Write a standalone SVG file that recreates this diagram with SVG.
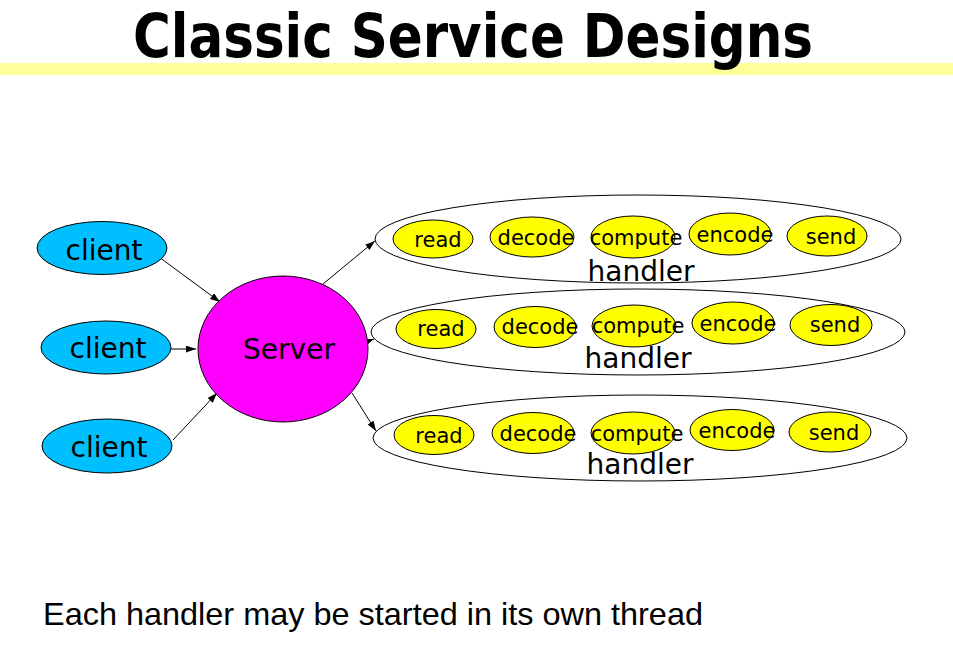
<svg xmlns="http://www.w3.org/2000/svg" width="953" height="657" viewBox="0 0 953 657">
<style>
.t{font-family:"DejaVu Sans",sans-serif;fill:#000;text-anchor:middle}
.client{fill:#00BFFF;stroke:#000;stroke-width:1}
.srv{fill:#FF00FF;stroke:#000;stroke-width:1}
.hnd{fill:none;stroke:#000;stroke-width:1}
.stage{fill:#FFFF00;stroke:#000;stroke-width:1}
.lbl{font-size:28px}
.st{font-size:21px}
.edge{stroke:#000;stroke-width:1;fill:none;marker-end:url(#ah)}
</style>
<defs>
<marker id="ah" markerUnits="userSpaceOnUse" markerWidth="11" markerHeight="8" refX="10" refY="3.5" orient="auto">
<path d="M0,0 L10,3.5 L0,7 z" fill="#000"/>
</marker>
</defs>
<rect width="953" height="657" fill="#fff"/>
<rect x="0" y="63" width="953" height="12" fill="#FFFF99"/>
<text x="473" y="57" font-family="'DejaVu Sans',sans-serif" font-weight="bold" font-size="61" text-anchor="middle" textLength="680" lengthAdjust="spacingAndGlyphs">Classic Service Designs</text>

<g id="connectors">
<line class="edge" x1="159" y1="257" x2="220" y2="302"/>
<line class="edge" x1="171" y1="349" x2="196" y2="349"/>
<line class="edge" x1="173" y1="440" x2="217" y2="393"/>
<line class="edge" x1="323" y1="284" x2="375" y2="241"/>
<line class="edge" x1="366" y1="342" x2="374" y2="339"/>
<line class="edge" x1="352" y1="393" x2="376" y2="431"/>
</g>

<g id="client1"><ellipse class="client" cx="102" cy="248" rx="65" ry="26.5"/><text class="t lbl" x="104" y="260" font-size="27">client</text></g>
<g id="client2"><ellipse class="client" cx="106" cy="347.5" rx="65" ry="26.5"/><text class="t lbl" x="108" y="358">client</text></g>
<g id="client3"><ellipse class="client" cx="107" cy="446" rx="65" ry="27"/><text class="t lbl" x="109" y="457">client</text></g>

<g id="server"><ellipse class="srv" cx="283" cy="349" rx="85" ry="73"/><text class="t lbl" x="289" y="359">Server</text></g>

<g id="handler1">
<ellipse class="hnd" cx="638" cy="239" rx="263" ry="44"/>
<ellipse class="stage" cx="433" cy="239" rx="40" ry="19"/>
<ellipse class="stage" cx="532" cy="237" rx="42" ry="20"/>
<ellipse class="stage" cx="633" cy="237" rx="42" ry="21"/>
<ellipse class="stage" cx="730" cy="234" rx="41" ry="21"/>
<ellipse class="stage" cx="827" cy="236" rx="40" ry="20"/>
<text class="t st" x="438" y="247">read</text>
<text class="t st" x="536" y="245">decode</text>
<text class="t st" x="636" y="245">compute</text>
<text class="t st" x="735" y="242">encode</text>
<text class="t st" x="831" y="244">send</text>
<text class="t lbl" x="641" y="281">handler</text>
</g>

<g id="handler2">
<ellipse class="hnd" cx="638" cy="332" rx="267" ry="43"/>
<ellipse class="stage" cx="436" cy="329" rx="40" ry="19.5"/>
<ellipse class="stage" cx="535" cy="327" rx="41" ry="20.5"/>
<ellipse class="stage" cx="634" cy="326" rx="42" ry="21"/>
<ellipse class="stage" cx="733" cy="323" rx="41" ry="21"/>
<ellipse class="stage" cx="831" cy="325" rx="41" ry="20.5"/>
<text class="t st" x="441" y="336">read</text>
<text class="t st" x="540" y="334">decode</text>
<text class="t st" x="638" y="333">compute</text>
<text class="t st" x="738" y="331">encode</text>
<text class="t st" x="835" y="332">send</text>
<text class="t lbl" x="638" y="368">handler</text>
</g>

<g id="handler3">
<ellipse class="hnd" cx="640" cy="438" rx="267" ry="43"/>
<ellipse class="stage" cx="434" cy="435" rx="40" ry="19.5"/>
<ellipse class="stage" cx="533" cy="433" rx="41" ry="20.5"/>
<ellipse class="stage" cx="633" cy="433" rx="42" ry="21"/>
<ellipse class="stage" cx="732" cy="430" rx="42" ry="20.5"/>
<ellipse class="stage" cx="830" cy="432" rx="41" ry="20"/>
<text class="t st" x="439" y="443">read</text>
<text class="t st" x="538" y="441">decode</text>
<text class="t st" x="637" y="441">compute</text>
<text class="t st" x="737" y="438">encode</text>
<text class="t st" x="834" y="440">send</text>
<text class="t lbl" x="640" y="474">handler</text>
</g>

<text x="43" y="625" font-family="'Liberation Sans',Arial,sans-serif" font-size="32" fill="#000" textLength="660" lengthAdjust="spacingAndGlyphs">Each handler may be started in its own thread</text>
</svg>
